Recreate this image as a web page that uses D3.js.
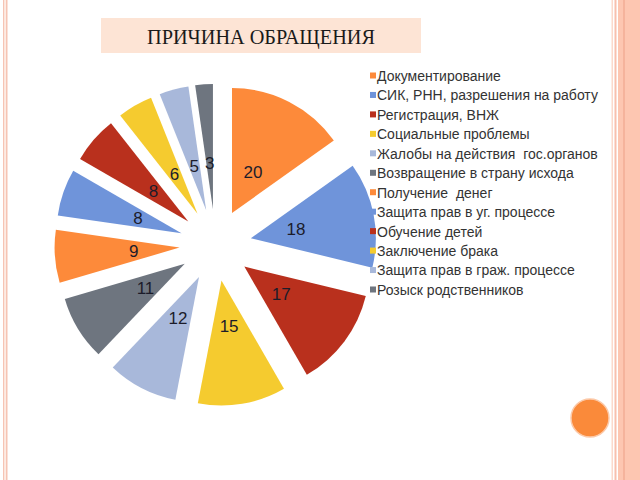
<!DOCTYPE html>
<html><head><meta charset="utf-8">
<script src="https://cdn.jsdelivr.net/npm/d3@7/dist/d3.min.js"></script>
<style>body{margin:0;background:#fff;}svg{display:block;}</style>
</head><body>
<svg id="c" width="640" height="480"></svg>
<script>
const title = "ПРИЧИНА ОБРАЩЕНИЯ";
const categories = ["Документирование","СИК, РНН, разрешения на работу","Регистрация, ВНЖ","Социальные проблемы","Жалобы на действия  гос.органов","Возвращение в страну исхода","Получение  денег","Защита прав в уг. процессе","Обучение детей","Заключение брака","Защита прав в граж. процессе","Розыск родственников"];
const values = [20,18,17,15,12,11,9,8,8,6,5,3];
const colors = ["#FD8A3A","#6F94DA","#B9301D","#F5CB2F","#A8B8DA","#6E757F","#FD8A3A","#6F94DA","#B9301D","#F5CB2F","#A8B8DA","#6E757F"];

const svg = d3.select("#c");
// slide borders
svg.append("rect").attr("x",3).attr("y",0).attr("width",1.5).attr("height",480).attr("fill","#F6C4B4");
svg.append("rect").attr("x",4.5).attr("y",0).attr("width",1.5).attr("height",480).attr("fill","#FDEBE3");
svg.append("rect").attr("x",6).attr("y",0).attr("width",1.5).attr("height",480).attr("fill","#F6C4B4");
svg.append("rect").attr("x",611.5).attr("y",0).attr("width",1.5).attr("height",480).attr("fill","#FBD9CC");
svg.append("rect").attr("x",614.5).attr("y",0).attr("width",2).attr("height",480).attr("fill","#F8C0AE");
svg.append("rect").attr("x",618).attr("y",0).attr("width",22).attr("height",480).attr("fill","#FDC6B1");
svg.append("rect").attr("x",623).attr("y",0).attr("width",2).attr("height",480).attr("fill","#F5B39C");
svg.append("circle").attr("cx",590).attr("cy",418).attr("r",19).attr("fill","#FA8A3A").attr("stroke","#FCC9A8").attr("stroke-width",1.5);

// title
svg.append("rect").attr("x",101).attr("y",18).attr("width",320).attr("height",35).attr("fill","#FDE4D5");
svg.append("text").attr("x",261).attr("y",44).attr("text-anchor","middle")
  .attr("font-family","Liberation Serif, serif").attr("font-size",20).attr("fill","#1a1a1a")
  .attr("textLength",228).attr("lengthAdjust","spacingAndGlyphs").text(title);

// pie
const cx = 215.5, cy = 245, R = 125, explode = 36, labelR = 46;
const pie = d3.pie().sort(null).value(d => d);
const arcs = pie(values);
const arc = d3.arc().innerRadius(0).outerRadius(R);
const g = svg.append("g").attr("transform",`translate(${cx},${cy})`);
const sl = g.selectAll("g.s").data(arcs).enter().append("g").attr("class","s")
  .attr("transform", d => { const a=(d.startAngle+d.endAngle)/2; return `translate(${explode*Math.sin(a)},${-explode*Math.cos(a)})`; });
sl.append("path").attr("d", arc).attr("fill",(d,i)=>colors[i]);
sl.append("text")
  .attr("x", d => { const a=(d.startAngle+d.endAngle)/2; return labelR*Math.sin(a); })
  .attr("y", d => { const a=(d.startAngle+d.endAngle)/2; return -labelR*Math.cos(a); })
  .attr("dy","0.35em").attr("text-anchor","middle")
  .attr("font-family","Liberation Sans, Arial, sans-serif").attr("font-size",17).attr("fill","#1c1c2a")
  .text(d => d.data);

// legend
const ly = d3.scalePoint().domain(categories).range([76,290]);
const lg = svg.append("g");
categories.forEach((c,i)=>{
  lg.append("rect").attr("x",370).attr("y",ly(c)-3.5).attr("width",6).attr("height",6).attr("fill",colors[i]);
  lg.append("text").attr("x",377).attr("y",ly(c)).attr("dy","0.35em").style("white-space","pre")
    .attr("font-family","Liberation Sans, Arial, sans-serif").attr("font-size",14).attr("fill","#333333").text(c);
});
</script>
</body></html>
